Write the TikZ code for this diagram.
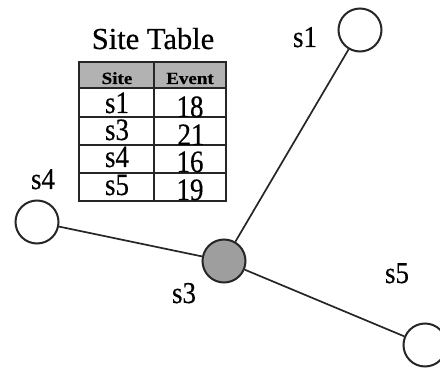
\documentclass[tikz,border=0pt]{standalone}
\usepackage{fontspec}
\setmainfont{Liberation Serif}[FakeBold=0.5]
% tall serif text, as set on the drawing
\newcommand{\tallt}[2]{\scalebox{1}[#1]{#2}}
\begin{document}
\begin{tikzpicture}[x=1pt,y=-1pt,
  site/.style={circle,draw=black!85,line width=2pt,minimum size=43pt,inner sep=0pt},
  hub/.style={site,fill=black!38},
  link/.style={draw=black!85,line width=1.7pt},
  lbl/.style={font=\fontsize{27}{27}\selectfont,anchor=base,inner sep=0pt},
  cell/.style={font=\fontsize{27}{27}\selectfont,anchor=base,inner sep=0pt},
  head/.style={font=\bfseries\fontsize{19}{19}\selectfont,anchor=base,inner sep=0pt},
  grid/.style={draw=black!85,line width=1.5pt}]
\useasboundingbox (0,0) rectangle (440,369);

% sites
\node[site] (s1) at (360,30) {};
\node[site] (s4) at (37,222) {};
\node[hub]  (s3) at (224,261) {};
\node[site] (s5) at (425,345) {};

\draw[link] (s3) -- (s1);
\draw[link] (s3) -- (s4);
\draw[link] (s3) -- (s5);

% site labels
\node[lbl] (l1) at (305,47) {\tallt{1.12}{s1}};
\node[lbl] (l4) at (43,189) {\tallt{1.12}{s4}};
\node[lbl] (l3) at (184,303) {\tallt{1.12}{s3}};
\node[lbl] (l5) at (397,283) {\tallt{1.12}{s5}};

% site table
\node[font=\fontsize{30.5}{30.5}\selectfont,anchor=base,inner sep=0pt] (title) at (153,49) {Site Table};
\fill[black!30] (79,62) rectangle (226,88);
\draw[grid] (79,62) rectangle (226,201);
\draw[grid] (154,62) -- (154,201);
\foreach \yy in {88,117,145,173} \draw[grid] (79,\yy) -- (226,\yy);

\node[head] (hs) at (117,84) {\tallt{0.9}{Site}};
\node[head] (he) at (190,84) {\tallt{0.9}{Event}};

\node[cell] (r1a) at (117,113) {\tallt{1.15}{s1}};
\node[cell] (r1b) at (190,117) {\tallt{1.15}{18}};
\node[cell] (r2a) at (117,140) {\tallt{1.15}{s3}};
\node[cell] (r2b) at (191,145) {\tallt{1.15}{21}};
\node[cell] (r3a) at (117,167) {\tallt{1.15}{s4}};
\node[cell] (r3b) at (190,172) {\tallt{1.15}{16}};
\node[cell] (r4a) at (117,195) {\tallt{1.15}{s5}};
\node[cell] (r4b) at (190,200) {\tallt{1.15}{19}};
\end{tikzpicture}
\end{document}
